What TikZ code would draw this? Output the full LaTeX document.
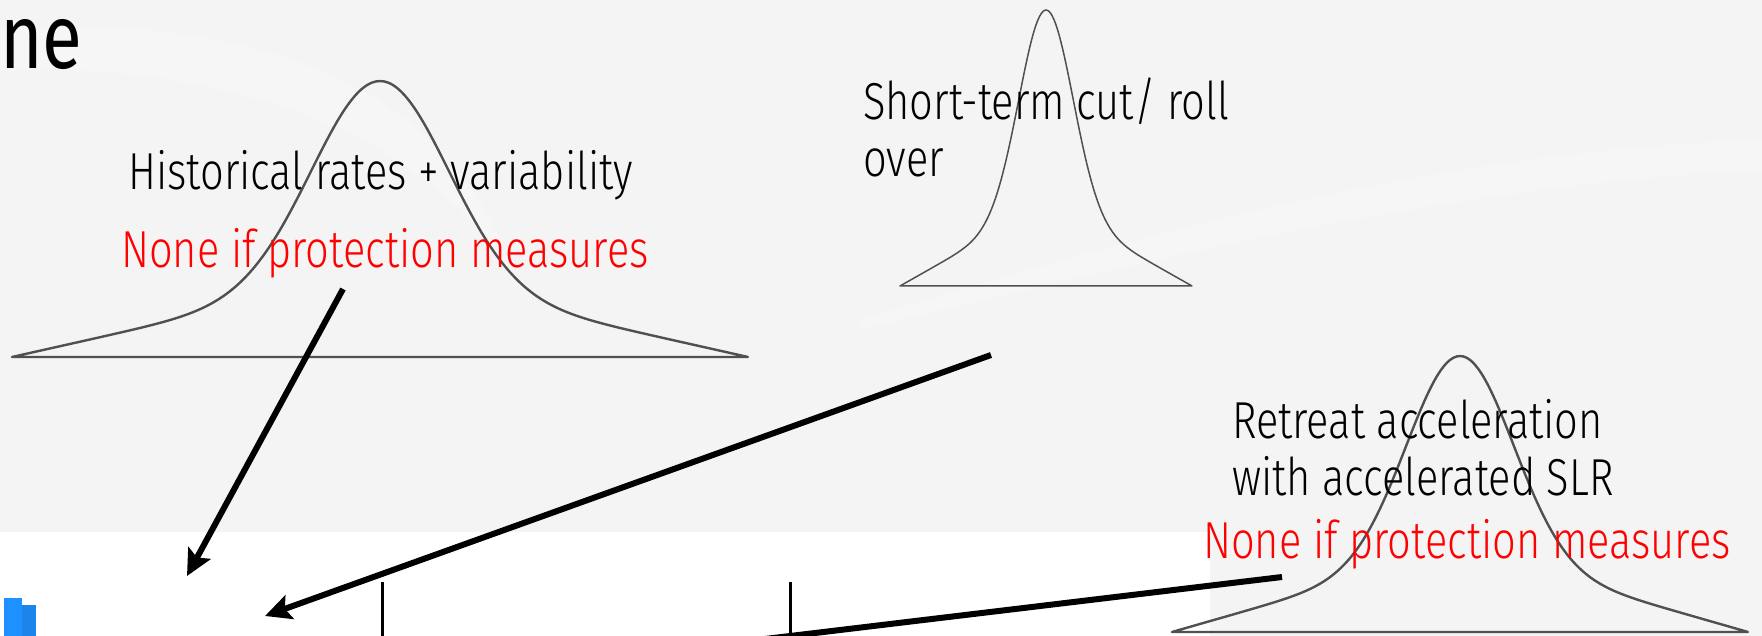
\documentclass[tikz,border=0pt]{standalone}
\usepackage{fontspec}
\usepackage{tikz}
\usetikzlibrary{arrows.meta}
\newfontfamily\lbl{Fira Sans Light}[FakeStretch=0.80]
\newfontfamily\ttl{Fira Sans}[FakeStretch=0.8]
\definecolor{slideBg}{RGB}{244,244,244}
\definecolor{curveGray}{RGB}{80,80,80}
\definecolor{noneRed}{RGB}{255,0,0}
\definecolor{iconBlue}{RGB}{30,144,255}

\tikzset{
  bellline/.style={line width=2pt, curveGray, line join=round},
  lbl/.style={font=\lbl\fontsize{52}{57}\selectfont, inner sep=0pt, anchor=base west, align=left},
  bigarrow/.style={-{Stealth[length=26pt, width=25pt, inset=5pt]}, line width=6pt},
  tickbar/.style={line width=3pt},
}

% centre x, base y, half width, line width
\newcommand{\bellcurve}[4]{%
  \draw[bellline, line width=#4, shift={(#1,#2)}]
    plot[domain=-1:1, samples=181, smooth]
      ({#3*\x}, {-279*(0.7285*exp(-\x*\x/0.0676) + 0.3*(1.01-sqrt(\x*\x+0.0201)))}) -- cycle;
}

\begin{document}
\begin{tikzpicture}[x=1pt, y=-1pt, >=Stealth]
  \useasboundingbox (0,0) rectangle (1762,636);
  \clip (0,0) rectangle (1762,636);

  % slide background
  \fill[slideBg] (0,0) rectangle (1762,636);
  \fill[white, opacity=0.22] (0,30) .. controls (260,10) and (470,90) .. (520,300)
    .. controls (470,160) and (260,60) .. (0,70) -- cycle;
  \fill[white, opacity=0.2] (860,320) .. controls (1150,230) and (1450,150) .. (1762,140)
    -- (1762,170) .. controls (1450,185) and (1150,260) .. (860,330) -- cycle;
  \fill[white] (0,532) rectangle (1210,636);

  % title, cut at the left
  \node[font=\ttl\fontsize{91}{100}\selectfont, inner sep=0pt, anchor=base west] (title) at (0,69) {ne};

  % distributions
  \bellcurve{380}{357}{368}{2.4pt}
  \bellcurve{1046}{286}{146}{1.5pt}
  \bellcurve{1460}{632}{288}{2.4pt}

  % labels (base = last line)
  \node[lbl] (hist) at (128,190) {Historical rates + variability};
  \node[lbl, noneRed] (histnone) at (121,268) {None if protection measures};
  \node[lbl] (short) at (863,177) {Short-term cut/ roll\\over};
  \node[lbl] (retreat) at (1232,495) {Retreat acceleration\\with accelerated SLR};
  \node[lbl, noneRed] (retnone) at (1203,558) {None if protection measures};

  % bottom chart pieces
  \fill[iconBlue] (4,598) rectangle (22,636);
  \fill[iconBlue!92!black] (22,605) rectangle (36,636);
  \coordinate (barA top) at (382,582);
  \coordinate (barA bot) at (382,640);
  \coordinate (barB top) at (790,582);
  \coordinate (barB bot) at (790,640);
  \draw[tickbar] (barA top) -- (barA bot);
  \draw[tickbar] (barB top) -- (barB bot);

  % arrows
  \coordinate (histtail) at (343,289);
  \coordinate (histhead) at (187,576);
  \coordinate (shorttail) at (991,355);
  \coordinate (shorthead) at (265,616);
  \coordinate (rettail) at (1282,577);
  \coordinate (retend) at (740,642);
  \draw[bigarrow] (histtail) -- (histhead);
  \draw[bigarrow] (shorttail) -- (shorthead);
  \draw[line width=6pt] (rettail) -- (retend);
\end{tikzpicture}
\end{document}
